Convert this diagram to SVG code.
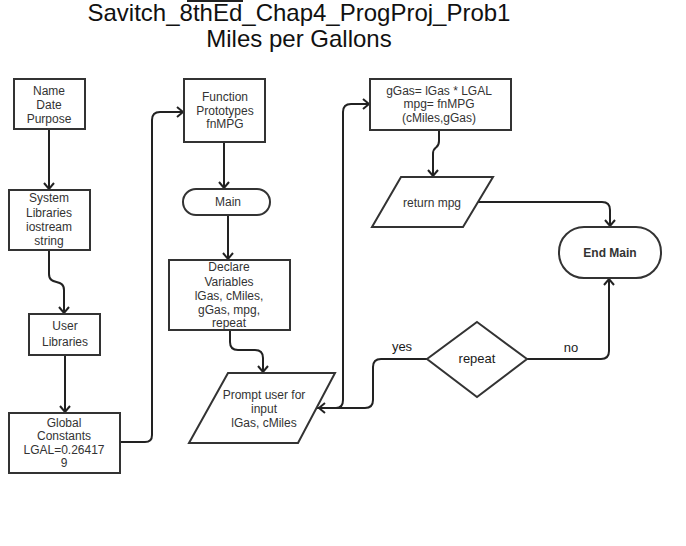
<svg xmlns="http://www.w3.org/2000/svg" width="686" height="546" viewBox="0 0 686 546">
<style>
.box{fill:#fff;stroke:#333;stroke-width:2}
.t{font-family:"Liberation Sans",Arial,sans-serif;font-size:12px;fill:#333;text-anchor:middle}
.b{font-weight:bold}
.d{font-size:13px;fill:#1a1a1a}
.title{font-family:"Liberation Sans",Arial,sans-serif;font-size:24px;fill:#111;text-anchor:middle}
.c{fill:none;stroke:#222;stroke-width:2}
</style>
<defs>
<marker id="arr" markerWidth="12" markerHeight="12" refX="9" refY="6" orient="auto" markerUnits="userSpaceOnUse">
<path d="M3,1 L9,6 L3,11" fill="none" stroke="#222" stroke-width="2"/>
</marker>
</defs>
<rect width="686" height="546" fill="#fff"/>
<rect x="187" y="0" width="56" height="2" fill="#222"/>
<text class="title" x="299" y="21">Savitch_8thEd_Chap4_ProgProj_Prob1</text>
<text class="title" x="299" y="47">Miles per Gallons</text>

<g id="connectors">
<path class="c" d="M49,129 V189" marker-end="url(#arr)"/>
<path class="c" d="M49,250 V274 C49,286 64,278 64,290 V313" marker-end="url(#arr)"/>
<path class="c" d="M65,355 V412" marker-end="url(#arr)"/>
<path class="c" d="M120,442 H145 Q152,442 152,435 V120 Q152,112 160,112 H183" marker-end="url(#arr)"/>
<path class="c" d="M224,142 V188" marker-end="url(#arr)"/>
<path class="c" d="M228,215 V259" marker-end="url(#arr)"/>
<path class="c" d="M230,330 V342 Q230,350 238,350 H255 Q263,350 263,358 V372" marker-end="url(#arr)"/>
<path class="c" d="M317,408 H336 Q343,408 343,400 V112 Q343,104 351,104 H369" marker-end="url(#arr)"/>
<path class="c" d="M427,359 H381 Q373,359 373,367 V400 Q373,408 365,408 H319" marker-end="url(#arr)"/>
<path class="c" d="M439,130 V141 C439,150 433,145 433,154 V176" marker-end="url(#arr)"/>
<path class="c" d="M478,202 H602 Q610,202 610,210 V226" marker-end="url(#arr)"/>
<path class="c" d="M527,359 H601 Q609,359 609,351 V279" marker-end="url(#arr)"/>
<text class="t d" x="402" y="351">yes</text>
<text class="t d" x="571" y="352">no</text>
</g>

<g id="header">
<rect class="box" x="14" y="79" width="71" height="50"/>
<text class="t" x="49" y="95">Name</text>
<text class="t" x="49" y="109">Date</text>
<text class="t" x="49" y="123">Purpose</text>
</g>
<g id="syslib">
<rect class="box" x="9" y="190" width="81" height="60"/>
<text class="t" x="49" y="202">System</text>
<text class="t" x="49" y="217">Libraries</text>
<text class="t" x="49" y="231">iostream</text>
<text class="t" x="49" y="245">string</text>
</g>
<g id="userlib">
<rect class="box" x="29" y="314" width="71" height="41"/>
<text class="t" x="65" y="330">User</text>
<text class="t" x="65" y="346">Libraries</text>
</g>
<g id="globals">
<rect class="box" x="9" y="413" width="111" height="60"/>
<text class="t" x="64" y="427">Global</text>
<text class="t" x="64" y="440">Constants</text>
<text class="t" x="64" y="454">LGAL=0.26417</text>
<text class="t" x="64" y="467">9</text>
</g>
<g id="protos">
<rect class="box" x="184" y="79" width="81" height="63"/>
<text class="t" x="225" y="101">Function</text>
<text class="t" x="225" y="115">Prototypes</text>
<text class="t" x="225" y="128">fnMPG</text>
</g>
<g id="main">
<rect class="box" x="183" y="189" width="87" height="26" rx="13"/>
<text class="t" x="228" y="206">Main</text>
</g>
<g id="declare">
<rect class="box" x="169" y="260" width="121" height="70"/>
<text class="t" x="229" y="271">Declare</text>
<text class="t" x="229" y="286">Variables</text>
<text class="t" x="229" y="300">lGas, cMiles,</text>
<text class="t" x="229" y="314">gGas, mpg,</text>
<text class="t" x="229" y="327">repeat</text>
</g>
<g id="prompt">
<polygon class="box" points="228,373 335,373 298,443 189,443"/>
<text class="t" x="264" y="399">Prompt user for</text>
<text class="t" x="264" y="413">input</text>
<text class="t" x="264" y="427">lGas, cMiles</text>
</g>
<g id="calc">
<rect class="box" x="370" y="79" width="141" height="51"/>
<text class="t" x="439" y="95">gGas= lGas * LGAL</text>
<text class="t" x="439" y="108">mpg= fnMPG</text>
<text class="t" x="439" y="122">(cMiles,gGas)</text>
</g>
<g id="return">
<polygon class="box" points="401,177 493,177 463,227 372,227"/>
<text class="t" x="432" y="207">return mpg</text>
</g>
<g id="endmain">
<rect class="box" x="559" y="227" width="102" height="51" rx="25"/>
<text class="t b" x="610" y="257">End Main</text>
</g>
<g id="repeat">
<polygon class="box" points="477,322 527,359 477,397 427,359"/>
<text class="t d" x="477" y="363">repeat</text>
</g>
</svg>
